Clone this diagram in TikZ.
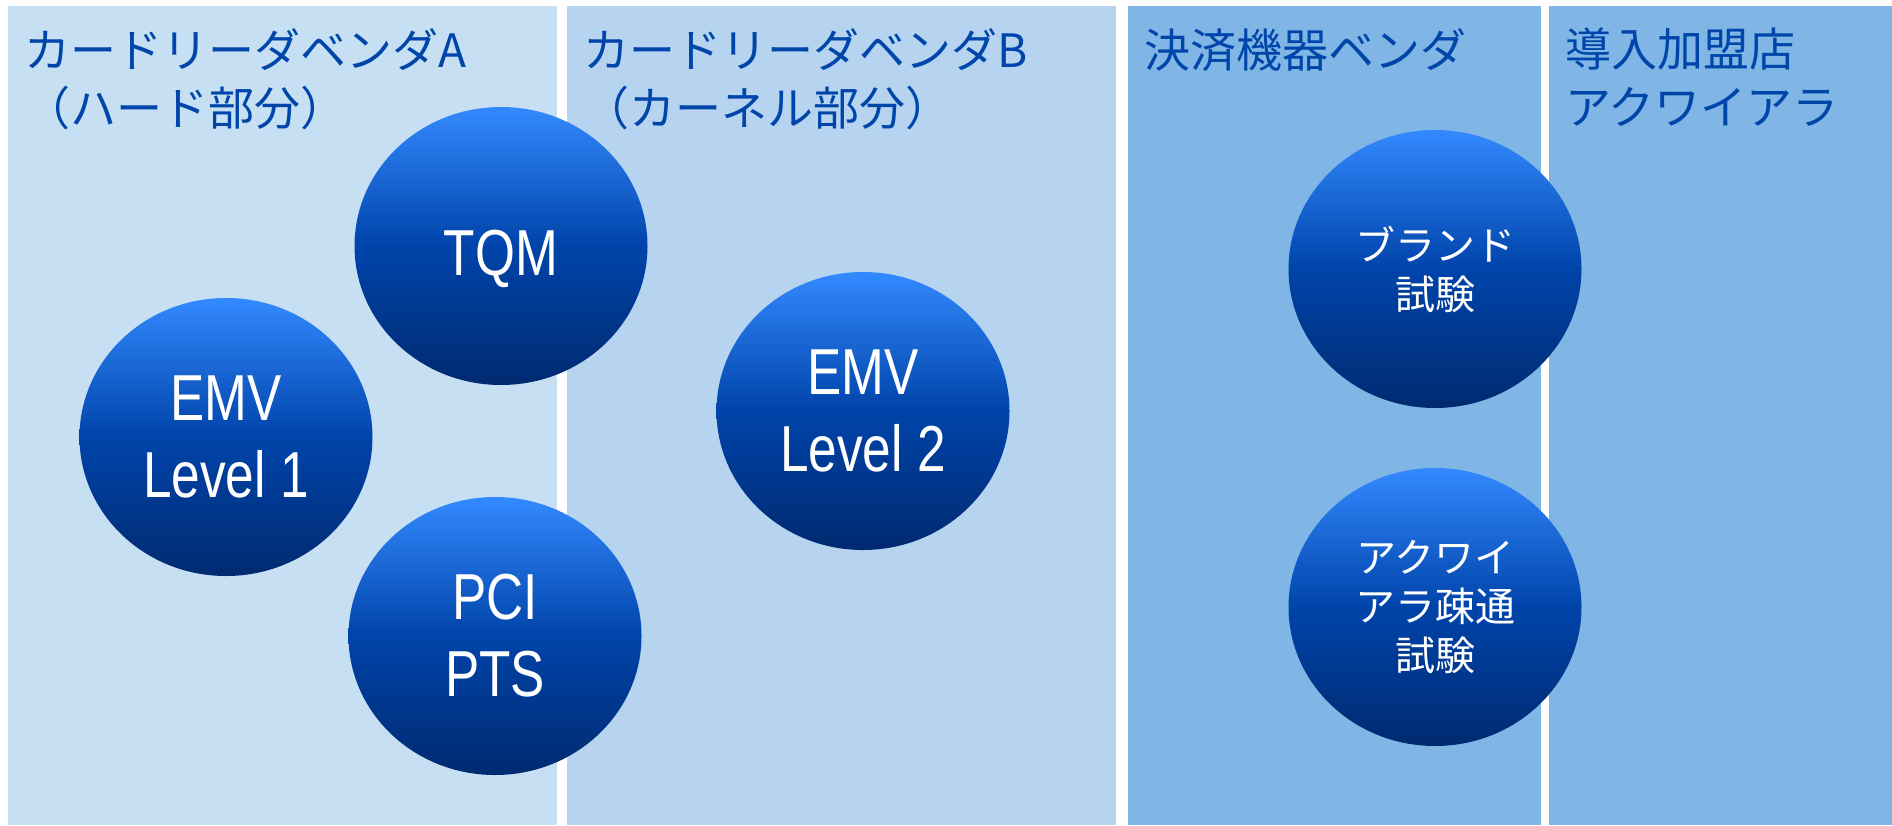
\documentclass[tikz,border=0pt]{standalone}
\usepackage{fontspec}
\setmainfont{Liberation Sans}
\newfontfamily\jpfont{Noto Sans CJK JP}
\newfontfamily\narrowfont[FakeStretch=0.79]{Liberation Sans}
\usepackage{xcolor}
\usetikzlibrary{shapes.geometric, positioning}

\definecolor{paneA}{RGB}{198,223,243}
\definecolor{paneB}{RGB}{182,212,240}
\definecolor{paneC}{RGB}{128,182,229}
\definecolor{headblue}{RGB}{0,70,170}
\definecolor{balltop}{RGB}{51,137,255}
\definecolor{ballmid}{RGB}{0,68,170}
\definecolor{ballbot}{RGB}{0,42,112}

\begin{document}
\begin{tikzpicture}[
    x=1pt, y=-1pt,
    node distance=22pt and 16pt,
    column/.style={anchor=north west, inner sep=0pt, minimum height=819pt},
    header/.style={anchor=north west, inner sep=0pt, align=left, text=headblue, font=\jpfont\fontsize{46}{58}\selectfont},
    test/.style={ellipse, minimum width=293pt, minimum height=278pt, inner sep=0pt, top color=balltop, bottom color=ballbot, middle color=ballmid, text=white, align=center, font=\narrowfont\fontsize{65}{77}\selectfont},
    jptest/.style={test, font=\jpfont\fontsize{40}{49}\selectfont}
]
    \useasboundingbox[fill=white] (0,0) rectangle (1892,825);

    % Columns
    \node (colA) [column, fill=paneA, minimum width=549pt] at (8,6) {};
    \node (colB) [column, fill=paneB, minimum width=549pt] at (567,6) {};
    \node (colC) [column, fill=paneC, minimum width=413pt] at (1128,6) {};
    \node (colD) [column, fill=paneC, minimum width=343pt] at (1549,6) {};

    % Headers
    \node (headA) [header, below right=of colA.north west] {カードリーダベンダA\\（ハード部分）};
    \node (headB) [header, below right=of colB.north west] {カードリーダベンダB\\（カーネル部分）};
    \node (headC) [header, below right=of colC.north west] {決済機器ベンダ};
    \node (headD) [header, below right=of colD.north west] {導入加盟店\\アクワイアラ};

    % Tests
    \node (tqm) [test] at (501,246) {\raisebox{-29pt}[0pt][0pt]{TQM}};
    \node (emvone) [test] at (226,437) {EMV\\Level 1};
    \node (pci) [test] at (495,636) {PCI\\PTS};
    \node (emvtwo) [test] at (863,411) {EMV\\Level 2};
    \node (brand) [jptest] at (1435,269) {ブランド\\試験};
    \node (acq) [jptest] at (1435,607) {アクワイ\\アラ疎通\\試験};
\end{tikzpicture}
\end{document}
